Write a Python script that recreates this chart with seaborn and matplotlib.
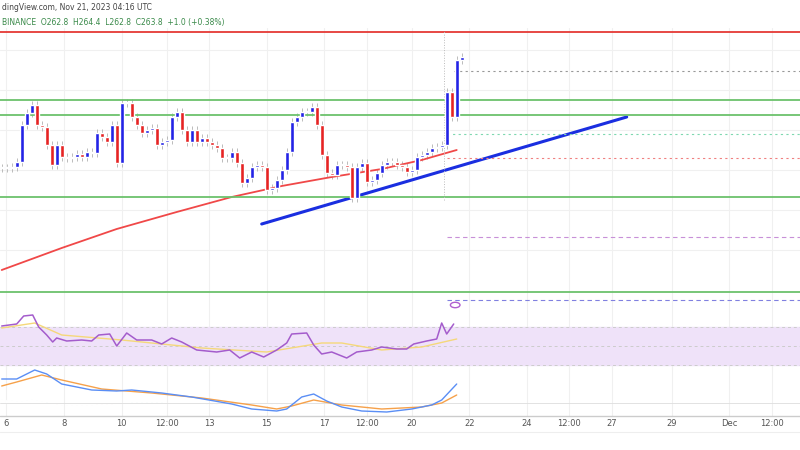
import matplotlib
matplotlib.use("Agg")
import matplotlib.pyplot as plt
import seaborn as sns
import numpy as np

sns.set_theme(style="white")

closes = [132,132,133,138,175,187,195,175,173,155,135,155,143,142,143,146,143,148,147,167,163,158,175,137,197,197,
          183,175,167,170,172,155,158,160,183,188,170,158,170,158,162,158,155,152,142,142,148,137,117,122,133,135,
          133,110,112,120,130,148,178,183,188,188,193,175,145,127,125,135,135,133,102,133,137,118,120,127,135,138,
          138,135,133,128,130,143,145,148,152,153,155,208,183,240,243]
first_open = 132
ma_x = [0, 12, 23, 35, 46, 56, 66, 76, 84, 91]
ma_y = [30, 52, 71, 88, 103, 114, 123, 131, 140, 150]
trend_x = [52, 125]
trend_y = [76, 183]
green_levels = [200, 185, 103]
red_level = 268
rsi_x = [0, 3, 4.4, 6.2, 7.4, 9, 10.2, 11, 13, 16, 18, 19.4, 21.6, 23, 25, 27, 30, 32, 34, 36, 39, 43, 45.6, 47.6,
         50, 52.4, 55, 57, 58, 61, 62.4, 64, 66, 69, 71, 74, 76, 79, 81, 82.4, 85, 87, 88, 89, 90.4]
rsi_y = [74, 76, 84, 85, 73, 65, 58, 62, 59, 60, 59, 65, 66, 54, 67, 60, 60, 56, 62, 58, 50, 48, 50, 42, 48, 43,
         50, 57, 66, 67, 55, 46, 48, 42, 48, 50, 53, 51, 51, 56, 59, 61, 77, 66, 76]
rsima_x = [0, 6.6, 12, 24, 40, 53, 64, 68, 76, 84, 91]
rsima_y = [72, 77, 65, 60, 52, 48, 57, 57, 50, 53, 61]
macd_x = [0, 3, 6.6, 9, 12, 18, 23, 26, 32, 38, 46, 50, 55, 57, 60, 62.4, 65, 68, 72, 77, 82, 86, 88, 91]
macd_y = [37, 37, 46, 42, 32, 26, 25, 26, 23, 19, 12, 7, 5, 7, 19, 22, 15, 9, 5, 4, 7, 11, 16, 32]
sig_x = [0, 3, 8, 12, 20, 30, 40, 50, 55, 58, 62.4, 68, 76, 84, 88, 91]
sig_y = [30, 34, 41, 36, 27, 23, 18, 11, 7, 10, 16, 11, 7, 9, 13, 21]
tick_pos = [0.9, 12.5, 24, 33, 41.5, 53, 64.5, 73, 82, 93.5, 105, 113.5, 122, 134, 145.5, 154]
tick_lab = ["6", "8", "10", "12:00", "13", "15", "17", "12:00", "20", "22", "24", "12:00", "27", "29", "Dec", "12:00"]

fig = plt.figure(figsize=(8, 4.5), dpi=100)
W, H = 800, 450
def axes(top, bot):
    return fig.add_axes([0, 1 - bot / H, 1, (bot - top) / H])
ax = axes(28, 294)
ax2 = axes(294, 370)
ax3 = axes(366, 416)
xl = (-0.34, 159.66)
for a in (ax, ax2, ax3):
    a.set_xlim(*xl)
    a.patch.set_alpha(0)
    for t in tick_pos:
        a.axvline(t, color="#f0f0f0", lw=0.8, zorder=0)
    a.set_yticks([]); a.set_xticks([])
    for s in a.spines.values():
        s.set_visible(False)

ax.set_ylim(6, 272)
for h in [50, 90, 130, 170, 210, 250]:
    ax.axhline(h, color="#f0f0f0", lw=0.8, zorder=0)
opens = [first_open] + closes[:-1]
for i, (o, c) in enumerate(zip(opens, closes)):
    col = "#2323e6" if c >= o else "#e62323"
    lo, hi = min(o, c), max(o, c)
    ax.vlines(i, lo - 4, hi + 4, color="#bbbbbb", lw=0.7, zorder=2)
    ax.bar(i, max(hi - lo, 1), bottom=lo, width=0.85, color=col, zorder=3)
sns.lineplot(x=ma_x, y=ma_y, ax=ax, color="#f04848", lw=1.3)
sns.lineplot(x=trend_x, y=trend_y, ax=ax, color="#1a2ee0", lw=2.2)
for g in green_levels:
    ax.axhline(g, color="#6cc26c", lw=1.3)
ax.axhline(8, color="#6cc26c", lw=1.3, clip_on=False)
ax.axhline(red_level, color="#e53935", lw=1.3)
ax.plot([90.5, 160], [229, 229], ls=(0, (2, 3)), color="#999999", lw=0.8)
ax.plot([89, 160], [166, 166], ls=(0, (2, 3)), color="#7fd8b0", lw=0.8)
ax.plot([89, 160], [142, 142], ls=(0, (2, 3)), color="#f08080", lw=0.8)
ax.plot([89, 160], [63, 63], ls=(0, (4, 3)), color="#c890d8", lw=0.8)
ax.vlines(88.5, 100, 270, color="#bbbbbb", lw=0.7, ls=":")

ax2.set_ylim(30, 106)
ax2.axhspan(35, 73, color="#efe2f9")
for h in (35, 54, 73):
    ax2.axhline(h, color="#cccccc", ls=(0, (3, 3)), lw=0.7)
ax2.plot([89, 160], [100, 100], color="#8080e0", ls=(0, (4, 3)), lw=0.8)
sns.lineplot(x=rsima_x, y=rsima_y, ax=ax2, color="#f5d87a", lw=1)
sns.lineplot(x=rsi_x, y=rsi_y, ax=ax2, color="#a45ccc", lw=1.1)

ax3.set_ylim(0, 50)
ax3.axhline(13, color="#dddddd", lw=0.6)
mx = np.arange(92)
mh = np.interp(mx, macd_x, macd_y) - np.interp(mx, sig_x, sig_y)
ax3.bar(mx, mh * 0.6, bottom=13, width=0.3, color=["#5fc0a8" if v > 0 else "#f49090" for v in mh])
sns.lineplot(x=sig_x, y=sig_y, ax=ax3, color="#f6a14a", lw=1)
sns.lineplot(x=macd_x, y=macd_y, ax=ax3, color="#5a8ef5", lw=1)
fig.add_artist(plt.Line2D([0, 1], [1 - 416 / H] * 2, color="#cccccc", lw=1))

for p, l in zip(tick_pos, tick_lab):
    x = (p - xl[0]) / (xl[1] - xl[0])
    fig.text(x, 1 - 423 / H, l, ha="center", va="center", fontsize=6, color="#555555")
fig.add_artist(plt.Line2D([0, 1], [1 - 432 / H] * 2, color="#eeeeee", lw=0.8))

fig.text(0.002, 1 - 7 / H, "dingView.com, Nov 21, 2023 04:16 UTC", fontsize=5.5, color="#444444", va="center")
fig.text(0.002, 1 - 22 / H, "BINANCE  O262.8  H264.4  L262.8  C263.8  +1.0 (+0.38%)", fontsize=5.5,
         color="#3a8a4a", va="center")
fig.add_artist(plt.Circle((0.569, 1 - 305 / H), 0.006, transform=fig.transFigure, fill=False,
                          ec="#b060d0", lw=1))
fig.savefig("out.png", dpi=100)
